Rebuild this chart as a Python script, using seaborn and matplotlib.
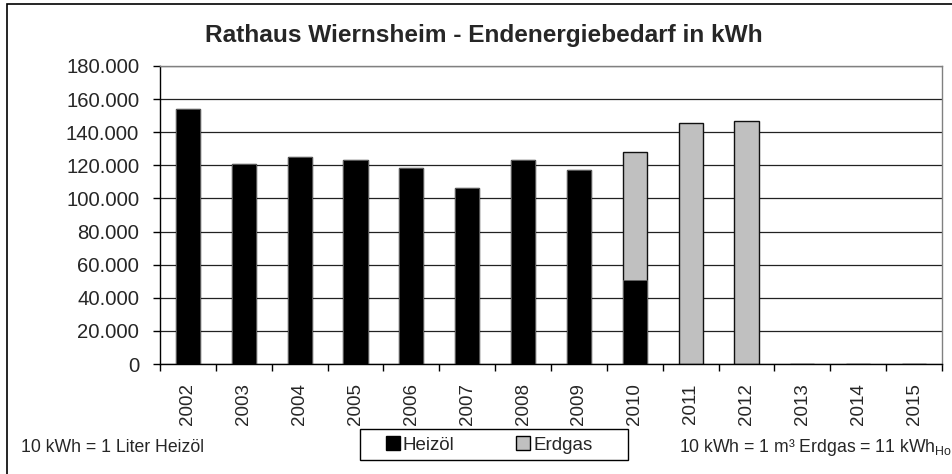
import matplotlib
matplotlib.use("Agg")
import matplotlib.pyplot as plt
import matplotlib.ticker as mticker
from matplotlib.patches import Rectangle, Patch
import seaborn as sns
import pandas as pd
import numpy as np

years = ["2002", "2003", "2004", "2005", "2006", "2007", "2008",
         "2009", "2010", "2011", "2012", "2013", "2014", "2015"]
heizoel = [154000, 121000, 125000, 123500, 118500, 106500, 123000,
           117000, 50500, 0, 0, 0, 0, 0]
erdgas = [0, 0, 0, 0, 0, 0, 0, 0, 77500, 145500, 147000, 0, 0, 0]
y_ticks = [0, 20000, 40000, 60000, 80000, 100000, 120000, 140000, 160000, 180000]

title = "Rathaus Wiernsheim - Endenergiebedarf in kWh"
note_left = "10 kWh = 1 Liter Heizöl"
note_right = r"10 kWh = 1 m³ Erdgas = 11 $\mathrm{kWh}_{\mathrm{Ho}}$"

sns.set_theme(style="white")
plt.rcParams['font.family'] = ['Liberation Sans', 'DejaVu Sans']
plt.rcParams['mathtext.fontset'] = 'custom'
plt.rcParams['mathtext.rm'] = 'Liberation Sans'
plt.rcParams['mathtext.it'] = 'Liberation Sans:italic'
plt.rcParams['mathtext.bf'] = 'Liberation Sans:bold'

df = pd.DataFrame({"Jahr": years, "Heizöl": heizoel, "Erdgas": erdgas})
df["Gesamt"] = df["Heizöl"] + df["Erdgas"]

W, H = 952, 474
fig = plt.figure(figsize=(W / 100, H / 100), dpi=100)
ax = fig.add_axes([160 / W, 1 - 364 / H, (942 - 160) / W, (364 - 66) / H])

ax.set_axisbelow(True)
ax.yaxis.grid(True, color="#222222", linewidth=0.9)

sns.barplot(data=df, x="Jahr", y="Gesamt", order=years, color="#c0c0c0",
            edgecolor="#111111", linewidth=1.0, width=0.43, ax=ax,
            saturation=1)
sns.barplot(data=df, x="Jahr", y="Heizöl", order=years, color="#000000",
            edgecolor="#666666", linewidth=0.6, width=0.43, ax=ax,
            saturation=1)

ax.set_xlim(-0.5, len(years) - 0.5)
ax.set_ylim(0, 180000)
ax.set_yticks(y_ticks)
ax.yaxis.set_major_formatter(mticker.FuncFormatter(
    lambda v, p: f"{int(v):,}".replace(",", ".")))
ax.set_xlabel("")
ax.set_ylabel("")

ax.tick_params(axis="y", which="major", direction="out", length=5, width=1,
               color="black", labelsize=14.6, pad=10, left=True)
ax.tick_params(axis="x", which="major", length=0, labelsize=13.5,
               labelrotation=90, pad=14)
ax.set_xticks(np.arange(-0.5, len(years), 1.0), minor=True)
ax.tick_params(axis="x", which="minor", direction="out", length=5, width=1,
               color="black", bottom=True)

for s in ["left", "bottom"]:
    ax.spines[s].set_color("black")
    ax.spines[s].set_linewidth(1.0)
for s in ["top", "right"]:
    ax.spines[s].set_color("#808080")
    ax.spines[s].set_linewidth(1.0)

fig.text(484 / W, 1 - 42 / H, title, ha="center", va="baseline",
         fontsize=17.6, fontweight="bold")

fig.text(21 / W, 1 - 448 / H, note_left, ha="left", va="center", fontsize=12.7)
fig.text(679 / W, 1 - 448 / H, note_right, ha="left", va="center", fontsize=12.7)

# legend box
fig.patches.append(Rectangle((360 / W, 1 - 460 / H), (628 - 360) / W, 31 / H,
                             transform=fig.transFigure, fill=False,
                             edgecolor="black", linewidth=1.0))
handles = [Patch(facecolor="#000000", edgecolor="#000000", label="Heizöl"),
           Patch(facecolor="#c0c0c0", edgecolor="#000000", label="Erdgas")]
fig.legend(handles=handles, loc="center", bbox_to_anchor=(489 / W, 1 - 445 / H),
           ncol=2, frameon=False, fontsize=13.5, handlelength=0.75,
           handleheight=0.75, handletextpad=0.15, columnspacing=3.3)

# outer chart border
fig.patches.append(Rectangle((7 / W, -0.02), 1.05, 1 - 4 / H + 0.02,
                             transform=fig.transFigure, fill=False,
                             edgecolor="black", linewidth=1.2))

fig.savefig("out.png", dpi=100)
